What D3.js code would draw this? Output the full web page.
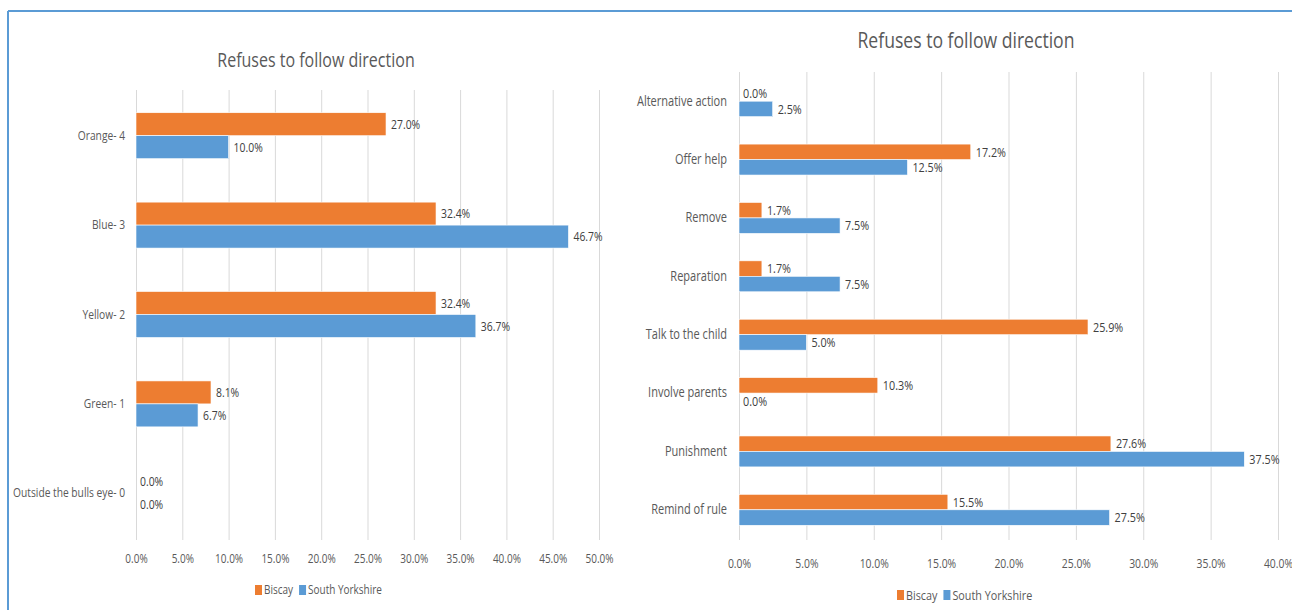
<!DOCTYPE html>
<html><head><meta charset="utf-8">
<script src="https://cdn.jsdelivr.net/npm/d3@7"></script>
<style>
body{margin:0;background:#fff;}
svg text{font-family:"Open Sans",sans-serif;}
</style></head>
<body><svg id="c" width="1292" height="610"></svg>
<script>
const seriesNames = ["Biscay", "South Yorkshire"];
const colors = ["#ED7D31", "#5B9BD5"];
const title = "Refuses to follow direction";

const leftCategories = ["Orange- 4", "Blue- 3", "Yellow- 2", "Green- 1", "Outside the bulls eye- 0"];
const leftBiscay = [27.0, 32.4, 32.4, 8.1, 0.0];
const leftSouthYorkshire = [10.0, 46.7, 36.7, 6.7, 0.0];
const leftTicks = [0, 5, 10, 15, 20, 25, 30, 35, 40, 45, 50];

const rightCategories = ["Alternative action", "Offer help", "Remove", "Reparation", "Talk to the child", "Involve parents", "Punishment", "Remind of rule"];
const rightBiscay = [0.0, 17.2, 1.7, 1.7, 25.9, 10.3, 27.6, 15.5];
const rightSouthYorkshire = [2.5, 12.5, 7.5, 7.5, 5.0, 0.0, 37.5, 27.5];
const rightTicks = [0, 5, 10, 15, 20, 25, 30, 35, 40];

const SX = 0.8; // horizontal squeeze to mimic a narrow font
const svg = d3.select("#c");

// frame
svg.append("line").attr("x1",8).attr("x2",1292).attr("y1",11).attr("y2",11).attr("stroke","#5B9BD5").attr("stroke-width",2);
svg.append("line").attr("x1",8).attr("x2",8).attr("y1",11).attr("y2",610).attr("stroke","#5B9BD5").attr("stroke-width",2);

function ntext(parent, x, y, str, size, fill, anchor){
  const t = parent.append("text").attr("transform", `translate(${x},${y}) scale(${SX},1)`)
    .attr("dy","0.35em").attr("font-size", size).attr("fill", fill).attr("text-anchor", anchor || "start").text(str);
  return t;
}

function drawChart(cfg){
  const g = svg.append("g");
  const x = d3.scaleLinear().domain([0, cfg.max]).range([cfg.x0, cfg.x1]);
  const y = d3.scaleBand().domain(cfg.cats).range([cfg.y0, cfg.y1]).paddingInner(cfg.pad).paddingOuter(cfg.pad/2);
  const sub = d3.scaleBand().domain([0,1]).range([0, y.bandwidth()]);
  // gridlines
  g.selectAll(".grid").data(cfg.ticks).join("line")
    .attr("x1", d=>x(d)+0.5).attr("x2", d=>x(d)+0.5)
    .attr("y1", cfg.gy0).attr("y2", cfg.gy1)
    .attr("stroke", "#d9d9d9").attr("stroke-width", 1);
  // tick labels via axis
  const axis = d3.axisBottom(x).tickValues(cfg.ticks).tickFormat(d=>d3.format(".1f")(d)+"%").tickSize(0);
  const ag = g.append("g").attr("transform", `translate(0,${cfg.tickY})`).call(axis);
  ag.select(".domain").remove();
  ag.selectAll("text").attr("fill","#595959").attr("font-size",cfg.tickFont).attr("dy","0.35em").attr("y",0)
    .attr("transform", `scale(${SX},1)`).style("font-family",'"Open Sans",sans-serif');
  // category labels
  const yAxis = d3.axisLeft(y).tickSize(0).tickPadding(0);
  const yg = g.append("g").attr("transform", `translate(${cfg.labelX},0)`).call(yAxis);
  yg.select(".domain").remove();
  yg.selectAll("text").attr("fill","#595959").attr("font-size",cfg.catFont)
    .attr("transform", `scale(${SX},1)`).style("font-family",'"Open Sans",sans-serif');
  // bars
  const rows = cfg.cats.map((c,i)=>({c, vals:[cfg.s1[i], cfg.s2[i]]}));
  rows.forEach(r=>{
    r.vals.forEach((v,k)=>{
      const yy = y(r.c) + sub(k);
      if (v > 0) {
        g.append("rect").attr("x", x(0)).attr("y", yy).attr("width", x(v)-x(0)).attr("height", sub.bandwidth())
          .attr("fill", colors[k]).attr("stroke", "#fff").attr("stroke-width", 0.6);
      }
      ntext(g, x(v) + (v>0?5:4), yy + sub.bandwidth()/2, d3.format(".1f")(v)+"%", cfg.dataFont, "#404040");
    });
  });
  // title
  ntext(g, cfg.titleX, cfg.titleY, title, cfg.titleFont, "#595959", "middle");
  // legend
  let lx = cfg.legX;
  seriesNames.forEach((n,k)=>{
    g.append("rect").attr("x", lx).attr("y", cfg.legY-5).attr("width",7).attr("height",10).attr("fill",colors[k]);
    const t = ntext(g, lx+9, cfg.legY, n, cfg.legFont, "#595959");
    lx += 9 + t.node().getComputedTextLength()*SX + 6;
  });
}

drawChart({cats:leftCategories, s1:leftBiscay, s2:leftSouthYorkshire, ticks:leftTicks, max:50,
  x0:136, x1:599, y0:91, y1:538, pad:0.486, gy0:90, gy1:540, tickY:559, labelX:125, catFont:12.8,
  tickFont:12.5, dataFont:13, legFont:12.5,
  titleX:316, titleY:60, titleFont:20, legX:255, legY:590});
drawChart({cats:rightCategories, s1:rightBiscay, s2:rightSouthYorkshire, ticks:rightTicks, max:40,
  x0:739, x1:1278, y0:72, y1:539, pad:0.47, gy0:72, gy1:540, tickY:563, labelX:727, catFont:13.8,
  tickFont:13, dataFont:13.5, legFont:13.5,
  titleX:966, titleY:40, titleFont:22, legX:897, legY:595});
</script></body></html>
